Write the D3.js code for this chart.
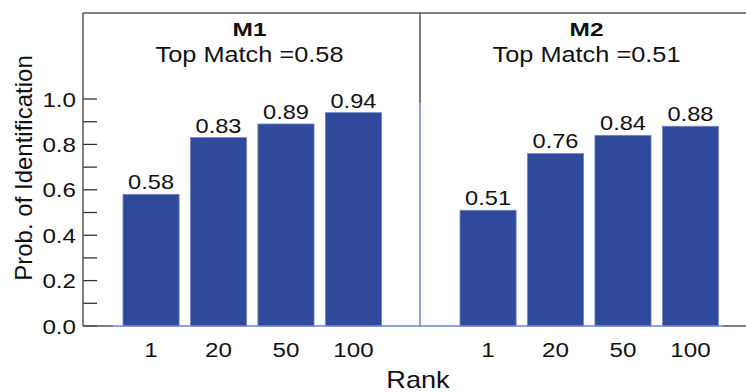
<!DOCTYPE html>
<html>
<head>
<meta charset="utf-8">
<script src="https://cdn.jsdelivr.net/npm/d3@7"></script>
<style>
  body { margin: 0; background: #fff; }
  text { font-family: "Liberation Sans", Arial, sans-serif; fill: #111; }
</style>
</head>
<body>
<svg id="chart" width="746" height="392"></svg>
<script>
// data
let panels = ["M1", "M2"];
let topMatch = ["0.58", "0.51"];
let ranks = ["1", "20", "50", "100"];
let m1Values = [0.58, 0.83, 0.89, 0.94];
let m2Values = [0.51, 0.76, 0.84, 0.88];
let yTickValues = [0, 0.2, 0.4, 0.6, 0.8, 1.0];
let yMinorTicks = d3.range(0, 1.01, 0.1);

let values = [m1Values, m2Values];

let svg = d3.select("#chart");

let plotTop = 13, plotBottom = 326, plotLeft = 83, panelW = 337;
let barColor = "#2f4a9a";
let edgeColor = "#6f86cc";
let frameColor = "#555";
let sx = 1.18; // the original text is drawn a bit wide

function at(x, y) {
  return "translate(" + x + "," + y + ") scale(" + sx + ",1)";
}

let y = d3.scaleLinear().domain([0, 1.379]).range([plotBottom, plotTop]);

// y axis ticks (inward)
let g = svg.append("g");
g.selectAll("line.tick")
  .data(yMinorTicks)
  .enter()
  .append("line")
  .attr("x1", plotLeft)
  .attr("x2", plotLeft + 14)
  .attr("y1", d => y(d))
  .attr("y2", d => y(d))
  .attr("stroke", "#333")
  .attr("stroke-width", 1.3);

g.selectAll("text.ytick")
  .data(yTickValues)
  .enter()
  .append("text")
  .attr("transform", d => at(plotLeft - 7, y(d) + 7.5))
  .attr("text-anchor", "end")
  .attr("font-size", "20.5px")
  .text(d => d.toFixed(1));

// y label
svg.append("text")
  .attr("transform", "translate(32," + 168 + ") rotate(-90)")
  .attr("text-anchor", "middle")
  .attr("font-size", "24px")
  .text("Prob. of Identification");

panels.forEach(function (name, i) {
  let x0 = plotLeft + i * panelW;
  let x = d3.scaleBand()
    .domain(ranks)
    .range([x0 + 40, x0 + 298.5])
    .paddingInner(0.168);

  let data = ranks.map((r, j) => ({ rank: r, v: values[i][j] }));
  let p = svg.append("g");

  p.selectAll("rect")
    .data(data)
    .enter()
    .append("rect")
    .attr("x", d => x(d.rank))
    .attr("y", d => y(d.v))
    .attr("width", x.bandwidth())
    .attr("height", d => y(0) - y(d.v))
    .attr("fill", barColor)
    .attr("stroke", edgeColor)
    .attr("stroke-width", 0.8);

  p.selectAll("text.val")
    .data(data)
    .enter()
    .append("text")
    .attr("transform", d => at(x(d.rank) + x.bandwidth() / 2, y(d.v) - 5))
    .attr("text-anchor", "middle")
    .attr("font-size", "20px")
    .text(d => d.v.toFixed(2));

  p.selectAll("text.xtick")
    .data(ranks)
    .enter()
    .append("text")
    .attr("transform", d => at(x(d) + x.bandwidth() / 2, 357))
    .attr("text-anchor", "middle")
    .attr("font-size", "20.5px")
    .text(d => d);

  let cx = x0 + panelW / 2 - 2;
  p.append("text")
    .attr("x", cx)
    .attr("y", 36)
    .attr("text-anchor", "middle")
    .attr("font-size", "18px")
    .attr("font-weight", "bold")
    .attr("textLength", 34)
    .attr("lengthAdjust", "spacingAndGlyphs")
    .text(name);

  p.append("text")
    .attr("x", cx)
    .attr("y", 62)
    .attr("text-anchor", "middle")
    .attr("font-size", "21.5px")
    .attr("textLength", 188)
    .attr("lengthAdjust", "spacingAndGlyphs")
    .text("Top Match =" + topMatch[i]);
});

// baseline: grey ends, blue middle
svg.append("line")
  .attr("x1", plotLeft).attr("x2", 113)
  .attr("y1", plotBottom).attr("y2", plotBottom)
  .attr("stroke", frameColor).attr("stroke-width", 1.5);
svg.append("line")
  .attr("x1", 113).attr("x2", 723)
  .attr("y1", plotBottom).attr("y2", plotBottom)
  .attr("stroke", edgeColor).attr("stroke-width", 1.5);
svg.append("line")
  .attr("x1", 723).attr("x2", 746)
  .attr("y1", plotBottom).attr("y2", plotBottom)
  .attr("stroke", frameColor).attr("stroke-width", 1.5);

// frame
svg.append("line")
  .attr("x1", plotLeft).attr("x2", 746)
  .attr("y1", plotTop).attr("y2", plotTop)
  .attr("stroke", frameColor).attr("stroke-width", 1.5);
svg.append("line")
  .attr("x1", plotLeft).attr("x2", plotLeft)
  .attr("y1", plotTop).attr("y2", plotBottom)
  .attr("stroke", frameColor).attr("stroke-width", 1.5);

// divider between panels
let xd = plotLeft + panelW;
svg.append("line")
  .attr("x1", xd).attr("x2", xd)
  .attr("y1", plotTop).attr("y2", y(0.98))
  .attr("stroke", frameColor).attr("stroke-width", 1.5);
svg.append("line")
  .attr("x1", xd).attr("x2", xd)
  .attr("y1", y(0.98)).attr("y2", plotBottom)
  .attr("stroke", edgeColor).attr("stroke-width", 1.5);

// x label
svg.append("text")
  .attr("transform", at(xd - 2, 388))
  .attr("text-anchor", "middle")
  .attr("font-size", "23px")
  .text("Rank");
</script>
</body>
</html>
